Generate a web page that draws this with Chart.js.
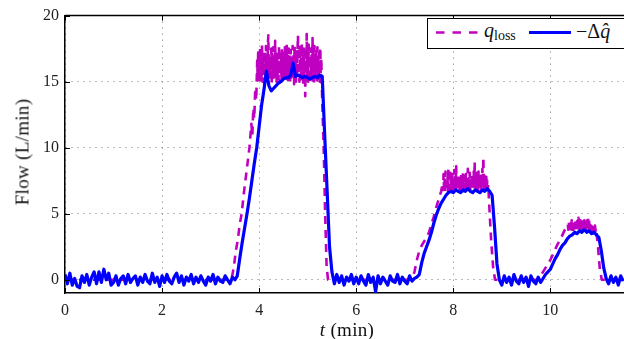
<!DOCTYPE html>
<html>
<head>
<meta charset="utf-8">
<script src="https://cdn.jsdelivr.net/npm/chart.js@4/dist/chart.umd.min.js"></script>
<style>
  html, body { margin:0; padding:0; background:#fff; overflow:hidden; width:624px; height:339px; }
  #wrap { position:relative; width:624px; height:339px; overflow:hidden; background:#fff; }
  #c { position:absolute; left:0; top:0; }
  .ttl { position:absolute; font-family:"Liberation Serif", "DejaVu Serif", serif; font-size:19px; color:#111; white-space:nowrap; line-height:1; letter-spacing:0.3px; }
  #ytitle { left:22px; top:152px; transform:translate(-50%,-50%) rotate(-90deg); }
  #xtitle { left:347px; top:329px; transform:translate(-50%,-50%); }
  #legend { position:absolute; left:427px; top:18px; width:220px; height:31px; border:1.5px solid #000; box-sizing:border-box; background:#fff; }
</style>
</head>
<body>
<div id="wrap">
  <canvas id="c" width="640" height="339"></canvas>
  <div id="ytitle" class="ttl">Flow (L/min)</div>
  <div id="xtitle" class="ttl"><i>t</i> (min)</div>
  <div id="legend">
    <svg width="220" height="31" xmlns="http://www.w3.org/2000/svg">
      <line x1="8" y1="13.5" x2="51" y2="13.5" stroke="#c000c0" stroke-width="2.5" stroke-dasharray="8.5 8"/>
      <text x="56" y="18" font-family="Liberation Serif, DejaVu Serif, serif" font-size="20" fill="#111"><tspan font-style="italic">q</tspan><tspan font-size="14" dy="3">loss</tspan></text>
      <line x1="101" y1="13.5" x2="143" y2="13.5" stroke="#0000ff" stroke-width="3"/>
      <text x="148" y="19" font-family="Liberation Serif, DejaVu Serif, serif" font-size="20" fill="#111">−Δ<tspan font-style="italic">q̂</tspan></text>
    </svg>
  </div>
</div>
<script>
// ---- data ----
const xTicks = [0, 2, 4, 6, 8, 10];
const yTicks = [0, 5, 10, 15, 20];

// q_loss outside the noisy plateaus: time (min) and flow (L/min)
const tLossEdges = [
  0, 3.40, 3.44, 3.48, 3.52, 3.56, 3.60, 3.64, 3.68, 3.72, 3.76, 3.80, 3.84, 3.86, 3.88, 3.90, 3.92, 3.94,
  5.30, 5.33, 5.36, 5.39, 5.42,
  7.15, 7.20, 7.25, 7.30, 7.35, 7.40, 7.45, 7.50, 7.55, 7.60, 7.65, 7.70, 7.75,
  8.75, 8.78, 8.82, 8.86,
  9.75, 9.80, 9.85, 9.90, 9.95, 10.00, 10.05, 10.10, 10.15, 10.20, 10.25, 10.30,
  10.98, 11.02, 11.06, 11.6
];
const qLossEdges = [
  0, 0, 0.2, 1.0, 2.2, 3.0, 4.2, 5.0, 6.4, 7.6, 8.8, 10.0, 11.8, 10.9, 13.0, 12.2, 14.5, 13.6,
  13.5, 10.0, 5.0, 1.0, 0,
  0, 0.6, 1.5, 2.2, 2.6, 2.9, 3.2, 3.6, 4.2, 4.8, 5.5, 6.1, 6.7,
  5.0, 3.0, 1.0, 0,
  0, 0.3, 0.6, 0.9, 1.2, 1.5, 1.9, 2.3, 2.7, 3.0, 3.4, 3.8,
  2.6, 0.8, 0, 0
];

// q_loss noisy plateaus, sampled every 0.01 min from the listed start times
const burstStart = [3.96, 7.78, 10.36];
const burstStep = 0.01;
const qBurst1 = [
  16.6, 15.3, 17.2, 15.0, 16.9, 15.5, 17.6, 15.1, 17.0, 15.4,
  17.8, 15.0, 16.8, 15.6, 17.4, 14.9, 17.1, 15.3, 17.7, 15.2,
  17.0, 15.5, 17.9, 18.5, 15.1, 17.3, 15.4, 16.9, 15.0, 17.5,
  14.8, 17.2, 15.6, 17.6, 15.3, 16.9, 15.1, 18.1, 15.4, 17.0,
  15.0, 17.4, 15.5, 16.8, 15.2, 17.7, 14.9, 17.1, 15.6, 16.9,
  15.3, 17.5, 15.0, 17.2, 15.4, 16.8, 15.1, 17.6, 15.5, 17.0,
  15.2, 17.9, 15.4, 17.1, 14.9, 17.5, 15.6, 16.9, 15.0, 17.4,
  15.3, 17.0, 15.5, 17.7, 15.1, 17.2, 14.8, 17.8, 15.4, 16.9,
  15.0, 17.6, 15.3, 17.3, 18.5, 15.5, 17.1, 15.0, 17.8, 15.2,
  17.4, 14.9, 17.9, 15.4, 17.0, 14.7, 17.5, 15.3, 17.2, 13.9,
  17.6, 15.1, 18.6, 15.4, 17.3, 15.0, 17.8, 15.5, 17.1, 14.9,
  17.5, 15.2, 17.0, 15.6, 18.3, 15.1, 17.4, 14.8, 17.7, 15.3,
  17.0, 15.5, 17.3, 14.9, 17.6, 15.2, 16.9, 15.4, 17.2, 15.0,
  17.6, 15.1, 16.8
];
const qBurst2 = [
  7.3, 6.8, 8.0, 6.9, 7.6, 6.7, 8.2, 6.9, 7.5, 6.8,
  7.9, 6.7, 8.5, 6.9, 7.4, 6.8, 8.1, 7.0, 7.7, 6.8,
  8.0, 6.9, 7.6, 6.7, 8.3, 6.9, 7.8, 6.8, 8.6, 7.0,
  7.5, 6.8, 8.0, 6.9, 7.7, 6.7, 7.4, 6.9, 8.1, 6.8,
  7.6, 6.9, 8.2, 6.7, 7.5, 6.9, 7.9, 6.8, 8.0, 7.0,
  7.6, 6.8, 8.4, 6.9, 7.7, 7.0, 8.1, 6.8, 7.5, 6.9,
  8.0, 6.8, 7.8, 6.9, 8.3, 7.0, 8.9, 6.9, 7.6, 6.8,
  8.1, 6.9, 7.7, 6.8, 8.2, 7.0, 7.5, 6.8, 8.0, 6.9,
  7.8, 6.8, 8.4, 7.0, 9.3, 6.9, 7.9, 6.8, 7.6, 7.0,
  7.8, 6.9, 7.5, 6.8, 7.2
];
const qBurst3 = [
  4.2, 3.8, 4.4, 3.9, 4.1, 3.7, 4.3, 3.9, 4.5, 3.8,
  4.2, 3.7, 4.4, 3.9, 4.3, 3.8, 4.5, 3.9, 4.2, 3.8,
  4.6, 3.9, 4.7, 4.0, 4.3, 3.8, 4.5, 3.9, 4.2, 3.7,
  4.4, 3.9, 4.3, 3.8, 4.5, 3.9, 4.2, 3.7, 4.4, 3.8,
  4.5, 3.9, 4.7, 3.8, 4.4, 3.9, 4.3, 3.7, 4.2, 3.8,
  4.3, 3.7, 4.1, 3.8, 4.0, 3.6, 4.1, 3.7, 3.9
];

// -Δq̂ : sampled every 0.05 min from t = 0 to 11.5
const tHatStep = 0.05;
const qHat = [
  // 0.00 - 0.95
  0.4, -0.3, 0.5, -0.4, 0.1, -0.5, -0.6, 0.3, -0.2, 0.4, -0.4, 0.2, 0.6, -0.3, 0.6, -0.2, 0.8, 0.0, 0.5, -0.4,
  // 1.00 - 1.95
  -0.2, 0.3, -0.4, 0.1, 0.3, -0.3, 0.4, -0.2, 0.1, 0.3, -0.4, 0.2, -0.2, 0.4, -0.1, -0.3, 0.5, -0.2, 0.2, -0.5,
  // 2.00 - 2.95
  0.3, -0.2, 0.4, -0.1, -0.3, 0.2, 0.5, -0.2, 0.3, -0.4, 0.2, -0.1, 0.4, -0.3, 0.2, -0.2, 0.3, -0.1, -0.4, 0.2,
  // 3.00 - 3.95
  -0.1, 0.4, -0.3, 0.2, -0.1, -0.2, 0.3, 0.0, -0.3, 0.2, 0.0, 0.3, 1.6, 2.8, 3.9, 5.0, 6.2, 7.5, 8.8, 10.0,
  // 4.00 - 4.95
  11.6, 13.2, 14.4, 15.8, 14.7, 14.3, 14.5, 14.7, 14.9, 15.0, 15.2, 15.3, 15.3, 15.5, 16.4, 15.4, 15.5, 15.4, 15.3, 15.4,
  // 5.00 - 5.95
  15.3, 15.2, 15.3, 15.4, 15.3, 15.5, 15.4, 11.0, 6.8, 2.5, 0.6, -0.3, 0.4, -0.2, 0.3, -0.4, 0.2, -0.1, 0.4, -0.3,
  // 6.00 - 6.95
  0.2, -0.3, 0.3, -0.1, -0.4, 0.4, -0.2, 0.2, -0.9, 0.3, -0.3, 0.2, -0.1, -0.4, 0.3, -0.1, -0.2, 0.4, -0.3, 0.2,
  // 7.00 - 7.95
  -0.1, -0.3, 0.3, -0.1, 0.1, 0.2, 0.4, 1.3, 2.0, 2.5, 3.0, 3.6, 4.3, 4.9, 5.4, 5.8, 6.1, 6.4, 6.6, 6.7,
  // 8.00 - 8.95
  6.6, 6.8, 6.7, 6.6, 6.8, 6.7, 6.9, 6.7, 6.6, 6.8, 6.7, 6.6, 6.8, 6.7, 6.9, 6.7, 6.4, 4.0, 1.2, 0.0,
  // 9.00 - 9.95
  -0.4, 0.3, -0.2, 0.2, -0.4, 0.4, -0.1, -0.3, 0.3, -0.2, 0.2, -0.5, 0.3, -0.1, -0.3, 0.2, -0.2, 0.1, 0.4, 0.6,
  // 10.00 - 10.95
  0.8, 1.2, 1.6, 1.9, 2.3, 2.6, 2.8, 3.1, 3.3, 3.4, 3.6, 3.5, 3.7, 3.6, 3.8, 3.6, 3.7, 3.5, 3.6, 3.4,
  // 11.00 - 11.50
  3.2, 2.2, 0.9, 0.1, -0.3, 0.3, -0.2, 0.2, -0.4, 0.3, -0.1
];
const tHat = qHat.map((_, i) => Math.round(i * tHatStep * 100) / 100);

// ---- build point lists ----
const lossPts = tLossEdges.map((t, i) => ({ x: t, y: qLossEdges[i] }));
[qBurst1, qBurst2, qBurst3].forEach((arr, k) => {
  arr.forEach((q, i) => lossPts.push({ x: Math.round((burstStart[k] + i * burstStep) * 100) / 100, y: q }));
});
lossPts.sort((a, b) => a.x - b.x);
const hatPts = tHat.map((t, i) => ({ x: t, y: qHat[i] }));

const framePlugin = {
  id: 'frame',
  afterDraw(chart) {
    const { ctx, chartArea: a, scales: { x, y } } = chart;
    ctx.save();
    ctx.strokeStyle = '#000';
    ctx.lineWidth = 1.5;
    ctx.beginPath();
    ctx.moveTo(a.left, a.top);
    ctx.lineTo(a.right, a.top);
    ctx.stroke();
    ctx.lineWidth = 1;
    ctx.beginPath();
    xTicks.forEach(v => {
      const px = Math.round(x.getPixelForValue(v)) + 0.5;
      ctx.moveTo(px, a.bottom); ctx.lineTo(px, a.bottom - 5);
      ctx.moveTo(px, a.top); ctx.lineTo(px, a.top + 5);
    });
    yTicks.forEach(v => {
      const py = Math.round(y.getPixelForValue(v)) + 0.5;
      ctx.moveTo(a.left, py); ctx.lineTo(a.left + 5, py);
    });
    ctx.stroke();
    ctx.restore();
  }
};

const tickFont = { family: '"Liberation Serif", "DejaVu Serif", serif', size: 16 };

new Chart(document.getElementById('c'), {
  type: 'line',
  data: {
    datasets: [
      {
        label: '−Δq̂',
        data: hatPts,
        borderColor: '#0000ff',
        borderWidth: 3.2,
        pointRadius: 0,
        tension: 0,
        borderJoinStyle: 'round',
        fill: false,
        order: 0
      },
      {
        label: 'q_loss',
        data: lossPts,
        borderColor: '#c000c0',
        borderWidth: 2.6,
        borderDash: [8, 6],
        pointRadius: 0,
        tension: 0,
        borderJoinStyle: 'round',
        fill: false,
        order: 1
      }
    ]
  },
  options: {
    responsive: false,
    animation: false,
    devicePixelRatio: 1,
    layout: { padding: { left: 0, top: 12, right: 12, bottom: 0 } },
    plugins: { legend: { display: false }, tooltip: { enabled: false } },
    scales: {
      x: {
        type: 'linear',
        min: 0,
        max: 11.6,
        afterBuildTicks: s => { s.ticks = xTicks.map(v => ({ value: v })); },
        afterFit: s => { s.height = 46; },
        ticks: { font: tickFont, color: '#222', padding: 8, maxRotation: 0, callback: v => String(v) },
        grid: { color: '#777', lineWidth: 1, drawTicks: false },
        border: { display: true, color: '#000', width: 1.5, dash: [1, 5] }
      },
      y: {
        type: 'linear',
        min: -1,
        max: 20,
        afterBuildTicks: s => { s.ticks = yTicks.map(v => ({ value: v })); },
        afterFit: s => { s.width = 65; },
        ticks: { font: tickFont, color: '#222', padding: 6, callback: v => String(v) },
        grid: { color: '#777', lineWidth: 1, drawTicks: false },
        border: { display: true, color: '#000', width: 1.5, dash: [1, 5] }
      }
    }
  },
  plugins: [framePlugin]
});
</script>
</body>
</html>
